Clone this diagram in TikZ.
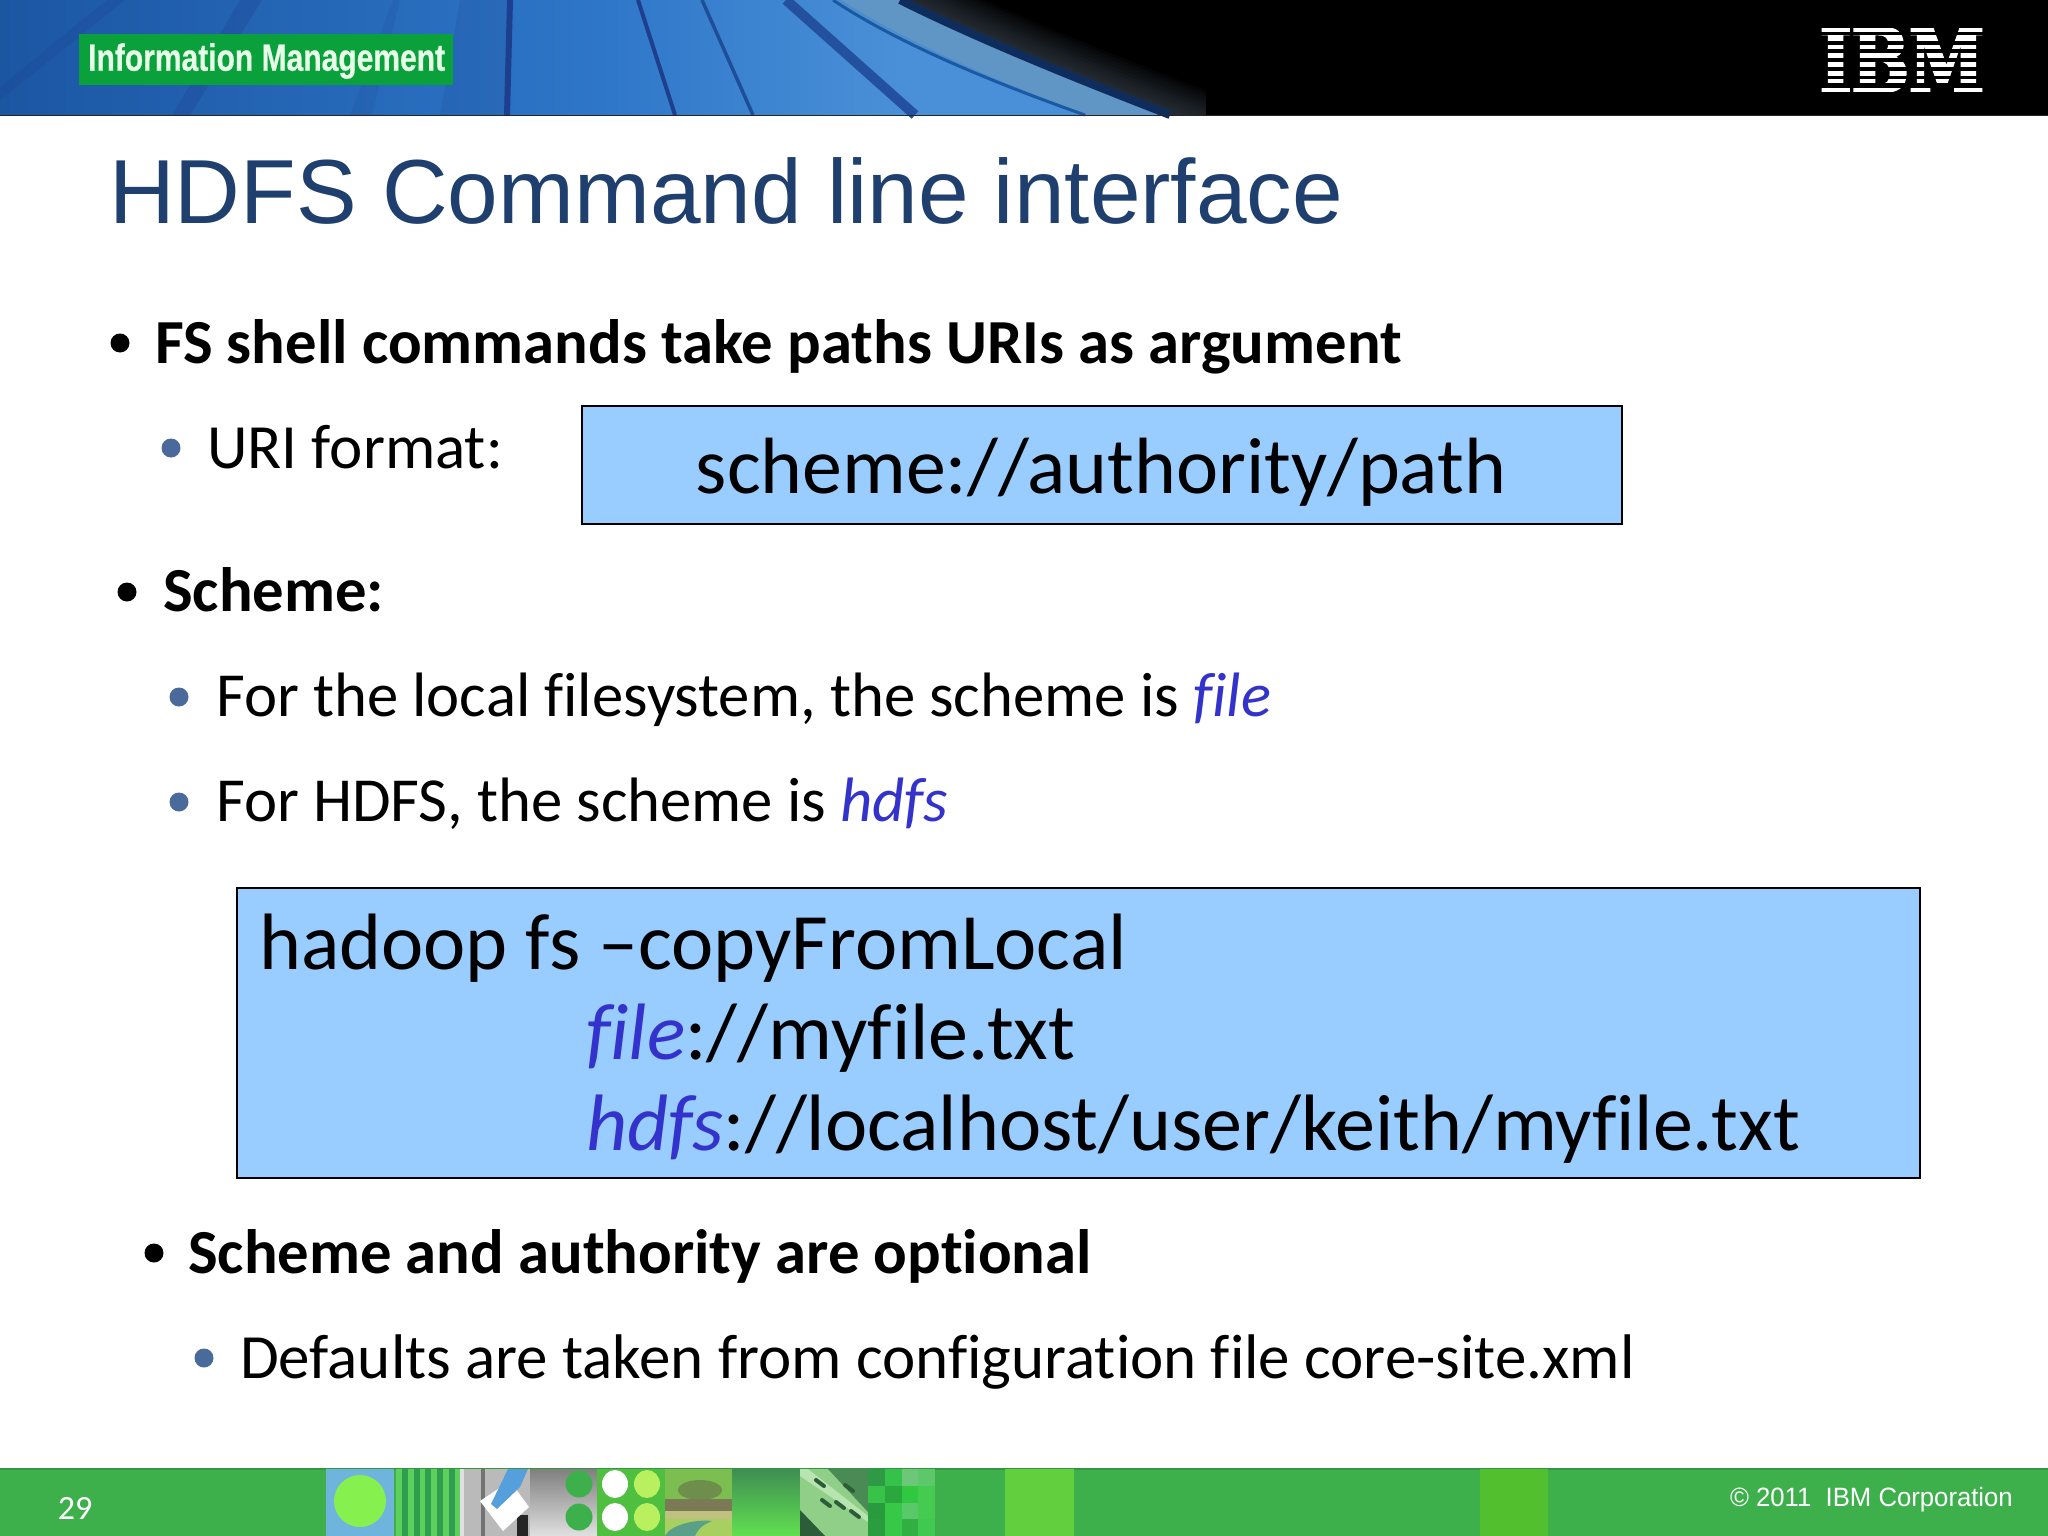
\documentclass[tikz,border=0pt]{standalone}
\usepackage{fontspec}
\setmainfont[Ligatures=NoCommon]{Carlito}
\newfontfamily\arialf{Liberation Sans}
\newfontfamily\ibmf[FakeBold=4]{DejaVu Serif}
\newfontfamily\badgef[FakeBold=0.6]{Liberation Sans}
\newcommand{\hc}[2]{\definecolor{#1}{HTML}{#2}}
\hc{boxblue}{99CCFF}\hc{schemeblue}{3333CC}\hc{titleblue}{1F3F6E}\hc{subbullet}{4A6A9C}\hc{footgreen}{3DB04C}
\hc{hdA}{1B56A3}\hc{hdB}{2E76C8}\hc{hdC}{4A90D8}
\hc{bandA}{4C8DCB}\hc{bandB}{6C9CC4}\hc{edgeA}{1A5AA4}\hc{edgeB}{0E2C5C}\hc{fadeg}{5A6A7A}
\hc{st1}{1E3F8E}\hc{st2}{1F4E98}\hc{st3}{23509F}
\hc{badgeg}{0AA03C}\hc{badget}{E6FFE6}
\hc{fA}{6EB4DC}\hc{fB}{86F04E}\hc{fC}{5CCF5C}\hc{fCd}{2F9E4F}\hc{fD}{55A0DC}\hc{fE}{B8F060}
\hc{fS}{4FBF3F}\hc{lsA}{7CBF50}\hc{lsB}{6E8E4C}\hc{lsC}{7A7A55}\hc{lsD}{C0C080}\hc{lsE}{5AA088}\hc{lsF}{A8D060}
\hc{grA}{3E8E52}\hc{grB}{62E050}\hc{rdA}{8FCF88}\hc{rdB}{4A8A55}\hc{rdC}{B8E4B0}\hc{rdD}{2C5C38}
\hc{c11}{2F9A45}\hc{c12}{35C24A}\hc{c13}{6CC878}\hc{c14}{5DC86A}
\hc{c21}{38C248}\hc{c22}{2AA83E}\hc{c23}{2FC840}\hc{c24}{45CC50}
\hc{c31}{2A9A3E}\hc{c32}{38C848}\hc{c33}{58C868}\hc{c34}{45CC50}
\hc{c41}{2A9E3E}\hc{c42}{38C848}\hc{c43}{30B040}\hc{c44}{40C850}
\hc{fQ}{62D03E}\hc{fR}{52BF2F}
\newcommand{\fs}[1]{\fontsize{#1}{#1}\selectfont}
\tikzset{
  x=1pt,y=-1pt,
  lead/.style={anchor=base west,inner sep=0pt,font=\fs{62.7}\bfseries,text=black},
  sub/.style={anchor=base west,inner sep=0pt,font=\fs{63},text=black},
  subb/.style={anchor=base west,inner sep=0pt,font=\fs{62.7},text=black},
  boxline/.style={anchor=base west,inner sep=0pt,font=\fs{80},text=black},
  bluebox/.style={draw=black,line width=1.6pt,fill=boxblue,inner sep=0pt},
  blackdot/.style={circle,fill=black,inner sep=0pt,minimum size=19pt},
  subdot/.style={circle,fill=subbullet,inner sep=0pt,minimum size=19pt},
  streak/.style={line cap=butt},
}
\begin{document}
\begin{tikzpicture}
\useasboundingbox (0,0) rectangle (2048,1536);
\fill[white] (0,0) rectangle (2048,1536);
% header
\fill[black] (0,0) rectangle (2048,115);
\shade[left color=hdA,right color=hdB] (0,0) rectangle (600,115);
\shade[left color=hdB,right color=hdC] (600,0) rectangle (900,115);
\fill[hdC] (900,0) rectangle (1206,115);
% soft wedges on the left
\fill[st1,opacity=.22] (107,0) -- (125,0) -- (0,100) -- (0,87) -- cycle;
\fill[st1,opacity=.28] (240,0) -- (262,0) -- (190,115) -- (172,115) -- cycle;
\fill[st1,opacity=.15] (393,0) -- (400,0) -- (372,115) -- (350,115) -- cycle;
\fill[st2,opacity=.22] (460,0) -- (510,0) -- (505,115) -- (440,115) -- cycle;
% streaks
\draw[streak,line width=6pt,color=st1] (510,0) -- (507,115);
\draw[streak,line width=4pt,color=st1] (638,0) -- (675,115);
\draw[streak,line width=3.5pt,color=st2] (702,0) -- (753,115);
\draw[streak,line width=10pt,color=st3] (786,0) -- (915,115);
% curved band
\fill[bandA] (833,0) .. controls (900,45) and (1000,85) .. (1085,115) -- (1170,115) .. controls (1080,80) and (980,40) .. (900,0) -- cycle;
\begin{scope}
\clip (833,0) .. controls (900,45) and (1000,85) .. (1085,115) -- (1170,115) .. controls (1080,80) and (980,40) .. (900,0) -- cycle;
\draw[line width=30pt,color=bandB,opacity=.6] (820,-30) -- (870,0) .. controls (940,42) and (1040,82) .. (1130,115) -- (1230,150);
\end{scope}
\draw[streak,line width=3pt,color=edgeA] (833,0) .. controls (900,45) and (1000,85) .. (1085,115);
% black corner with a soft edge
\begin{scope}
\clip (900,0) .. controls (980,40) and (1080,80) .. (1170,115) -- (1206,115) -- (1206,0) -- cycle;
\fill[black] (880,0) rectangle (1206,115);
\foreach \w in {6,12,...,72}{\draw[line width=\w pt,color=fadeg,opacity=.05] (780,-60) -- (900,0) .. controls (980,40) and (1080,80) .. (1170,115) -- (1300,165);}
\end{scope}
\draw[streak,line width=8pt,color=edgeB] (900,0) .. controls (980,40) and (1080,80) .. (1170,115);
\fill[black] (1206,0) rectangle (2048,115);
\fill[black!85] (0,115) rectangle (2048,116.5);
\node[fill=badgeg,minimum width=374pt,minimum height=51pt,inner sep=0pt,anchor=north west] (badge) at (79,34) {};
\node[anchor=west,inner sep=0pt,text=badget,font=\badgef\bfseries\fs{38},xscale=.79] (badgetext) at (88,61) {Information Management};
% IBM logo
\node[inner sep=0pt,text=white,font=\ibmf\bfseries\fs{86},anchor=center,xscale=.79] (ibm) at (1902,60) {IBM};
\fill[black] (1800,10) rectangle (2000,28);
\fill[black] (1800,92) rectangle (2000,112);
\foreach \ya/\yb in {32/35,41/45,49/53,58/62,67/71,76/79,83/88}{\fill[black] (1800,\ya) rectangle (2000,\yb);}
% title
\node[anchor=base west,inner sep=0pt,font=\arialf\fs{91},text=titleblue] (title) at (109,223) {HDFS Command line interface};
% body
\node[blackdot] (b1) at (120,343) {};
\node[lead] (t1) at (155,363) {FS shell commands take paths URIs as argument};
\node[subdot] (b2) at (171,448) {};
\node[sub] (t2) at (207,468) {URI format:};
\node[bluebox,minimum width=1040pt,minimum height=118pt,anchor=north west] (box1) at (581,405) {};
\node[anchor=base,inner sep=0pt,font=\fs{79.8},text=black] (box1t) at (1101,493) {scheme://authority/path};
\node[blackdot] (b3) at (127,592) {};
\node[lead] (t3) at (163,611) {Scheme:};
\node[subdot] (b4) at (179,697) {};
\node[subb] (t4) at (216,716) {For the local filesystem, the scheme is \textcolor{schemeblue}{\itshape file}};
\node[subdot] (b5) at (179,802) {};
\node[subb] (t5) at (216,821) {For HDFS, the scheme is \textcolor{schemeblue}{\itshape hdfs}};
\node[bluebox,minimum width=1683pt,minimum height=290pt,anchor=north west] (box2) at (236,887) {};
\node[boxline] (l1) at (259,969) {hadoop fs –copyFromLocal};
\node[boxline] (l2) at (586,1059) {\textcolor{schemeblue}{\itshape file}://myfile.txt};
\node[boxline] (l3) at (586,1150) {\textcolor{schemeblue}{\itshape hdfs}://localhost/user/keith/myfile.txt};
\node[blackdot] (b6) at (154,1253) {};
\node[lead] (t6) at (188,1273) {Scheme and authority are optional};
\node[subdot] (b7) at (204,1358) {};
\node[sub] (t7) at (240,1378) {Defaults are taken from configuration file core-site.xml};
% footer
\fill[footgreen] (0,1468) rectangle (2048,1536);
\fill[footgreen!85!black] (0,1468) rectangle (2048,1470);
% tile 1
\fill[fA] (326,1469) rectangle (394,1536);
\fill[fB] (360,1501) circle (26);
% tile 2
\fill[fC] (396,1469) rectangle (460,1536);
\foreach \xx in {402,414,425,437,449}{\fill[fCd] (\xx,1469) rectangle (\xx+6,1536);}
% tile 3
\fill[black!27] (460,1469) rectangle (530,1536);
\fill[white!88!black] (460,1469) rectangle (464,1536);
\fill[black!55] (481,1469) rectangle (485,1536);
\fill[black!85] (517,1515) rectangle (528,1536);
\fill[white] (480,1501) -- (510,1481) -- (529,1507) -- (503,1531) -- cycle;
\fill[fD] (508,1469) -- (528,1469) -- (520,1487) -- (497,1509) -- (491,1504) -- cycle;
% tile 4
\shade[top color=black!50,bottom color=black!12] (530,1469) rectangle (597,1536);
\fill[footgreen] (579,1484) circle (13.5);
\fill[footgreen] (579,1517) circle (13.5);
% tile 5
\fill[fS] (597,1469) rectangle (665,1536);
\fill[white] (615,1484) ellipse (13 and 14);
\fill[white] (615,1517) ellipse (13 and 14);
\fill[fE] (647,1484) ellipse (13 and 14);
\fill[fE] (647,1517) ellipse (13 and 14);
% tile 6 landscape
\fill[lsA] (665,1469) rectangle (732,1536);
\fill[lsB] (700,1490) ellipse (22 and 10);
\fill[lsD] (665,1510) rectangle (732,1521);
\fill[lsC] (665,1499) rectangle (732,1511);
\fill[lsF] (665,1519) rectangle (732,1536);
\fill[lsE] (665,1536) .. controls (670,1525) and (695,1519) .. (712,1521) .. controls (700,1526) and (698,1530) .. (695,1536) -- cycle;
% tile 7
\shade[top color=grA,bottom color=grB] (732,1469) rectangle (800,1536);
% tile 8 road
\fill[rdA] (800,1469) rectangle (868,1536);
\fill[rdB] (828,1469) -- (868,1469) -- (868,1512) -- cycle;
\fill[rdD] (800,1510) -- (825,1536) -- (800,1536) -- cycle;
\fill[rdC] (800,1469) -- (808,1469) -- (868,1516) -- (868,1522) -- (800,1476) -- cycle;
\foreach \a/\b in {820/1483,840/1505,826/1503,855/1514,849/1488}{\draw[line width=4pt,color=rdD,line cap=round] (\a-4,\b-3) -- (\a+4,\b+3);}
% tile 9 squares
\foreach \cc [count=\i from 0] in {c11,c12,c13,c14,c21,c22,c23,c24,c31,c32,c33,c34,c41,c42,c43,c44}{
  \pgfmathsetmacro{\cx}{868+16.75*mod(\i,4)}
  \pgfmathsetmacro{\cy}{1469+16.75*int(\i/4)}
  \fill[\cc] (\cx,\cy) rectangle (\cx+16.75,\cy+16.75);
}
\fill[fQ] (1005,1469) rectangle (1074,1536);
\fill[fR] (1480,1469) rectangle (1548,1536);
\node[anchor=center,inner sep=0pt,text=white,font=\fs{34}] (pageno) at (75,1508) {29};
\node[anchor=base east,inner sep=0pt,text=white,font=\arialf\fs{26.5},xscale=.97] (copy) at (2013,1506) {© 2011\ \ IBM Corporation};
\end{tikzpicture}
\end{document}
